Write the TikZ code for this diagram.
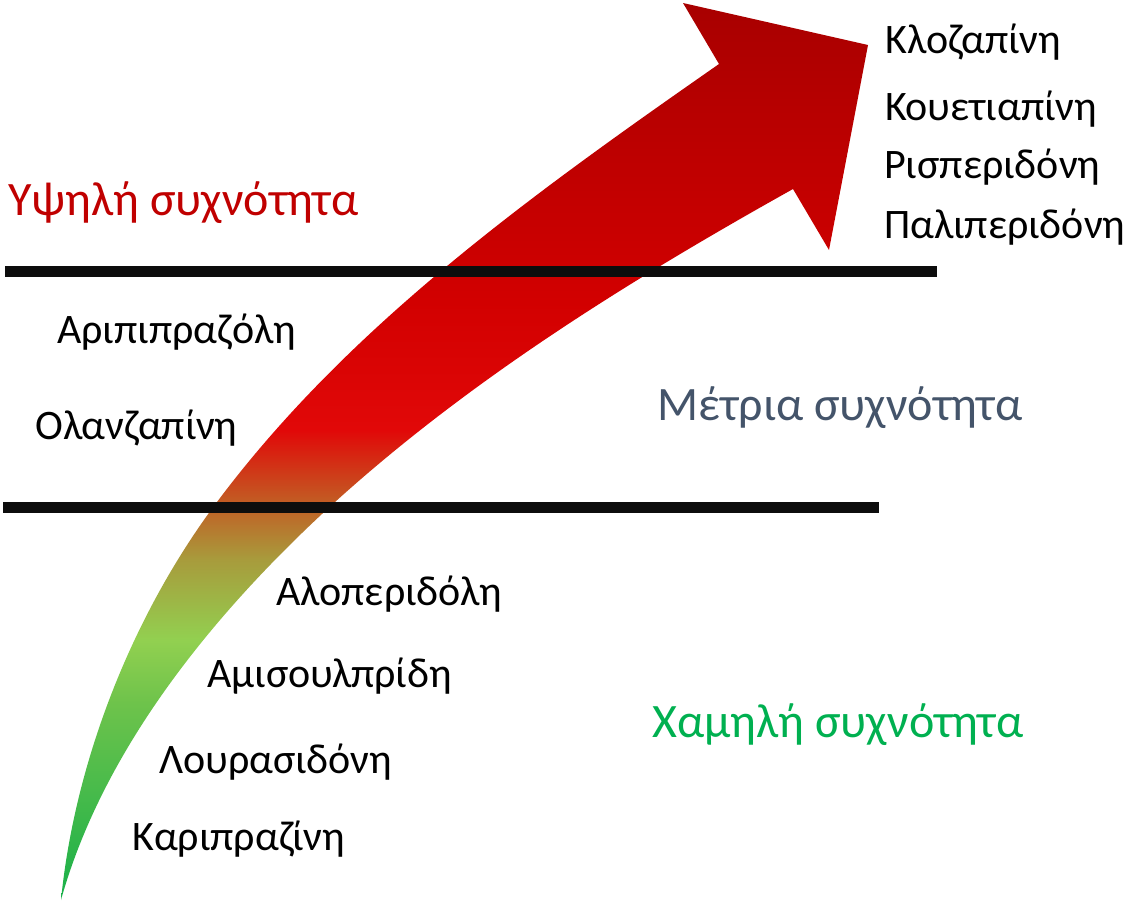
\documentclass[tikz,border=0pt]{standalone}
\usepackage{fontspec}
\setmainfont{Carlito}
\usetikzlibrary{positioning}

\definecolor{highred}{RGB}{192,0,0}
\definecolor{midslate}{RGB}{68,84,106}
\definecolor{lowgreen}{RGB}{0,176,80}
\definecolor{tipgreen}{RGB}{24,176,74}
\definecolor{grassgreen}{RGB}{110,195,75}
\definecolor{lightgreen}{RGB}{146,208,80}
\definecolor{olive}{RGB}{168,155,60}
\definecolor{rust}{RGB}{195,90,35}
\definecolor{brightred}{RGB}{225,8,8}
\definecolor{plainred}{RGB}{210,0,0}
\definecolor{darkred}{RGB}{168,0,0}

% colour runs from the tail (green) to the head (dark red)
\pgfdeclareverticalshading{freqshade}{100bp}{%
    color(0bp)=(tipgreen); color(25bp)=(tipgreen);
    color(36bp)=(grassgreen); color(39.5bp)=(lightgreen);
    color(44bp)=(olive); color(47.3bp)=(rust);
    color(51.2bp)=(brightred); color(58.4bp)=(plainred);
    color(75bp)=(darkred); color(100bp)=(darkred)}

\begin{document}
\begin{tikzpicture}[
    x=1pt, y=-1pt,
    bar/.style={
        line width=11pt,
        draw=black!95
    },
    drug/.style={
        anchor=base west,
        inner sep=0pt,
        font=\fontsize{42}{42}\selectfont
    },
    level/.style={
        anchor=base west,
        inner sep=0pt,
        font=\fontsize{48}{48}\selectfont
    }
]

    \useasboundingbox (0,0) rectangle (1127,903);

    % Arrow
    \coordinate (tail) at (61,900);
    \shade[shading=freqshade]
        (tail) .. controls (75,760) and (133,614) .. (217,502)
        .. controls (350,324) and (537,191) .. (719,64)
        -- (683,3) -- (868,45) -- (829,250) -- (793,189)
        .. controls (632,279) and (472,378) .. (335,502)
        .. controls (200,625) and (100,760) .. (tail)
        -- cycle;

    % Bars
    \draw[bar] (5,271.5) -- (937,271.5);
    \draw[bar] (3,507.5) -- (879,507.5);

    % High
    \node[level, text=highred] (high) at (8,215) {Υψηλή συχνότητα};
    \node[drug] (cloz) at (885,53) {Κλοζαπίνη};
    \node[drug] (quet) at (885,120) {Κουετιαπίνη};
    \node[drug] (risp) at (884,178) {Ρισπεριδόνη};
    \node[drug] (pali) at (884,238) {Παλιπεριδόνη};

    % Medium
    \node[level, text=midslate] (mid) at (657,420) {Μέτρια συχνότητα};
    \node[drug] (arip) at (57,343) {Αριπιπραζόλη};
    \node[drug] (olan) at (35,439) {Ολανζαπίνη};

    % Low
    \node[level, text=lowgreen] (low) at (652,737) {Χαμηλή συχνότητα};
    \node[drug] (halo) at (276,605) {Αλοπεριδόλη};
    \node[drug] (amis) at (207,687) {Αμισουλπρίδη};
    \node[drug] (lura) at (159,773) {Λουρασιδόνη};
    \node[drug] (cari) at (132,850) {Καριπραζίνη};

\end{tikzpicture}
\end{document}
